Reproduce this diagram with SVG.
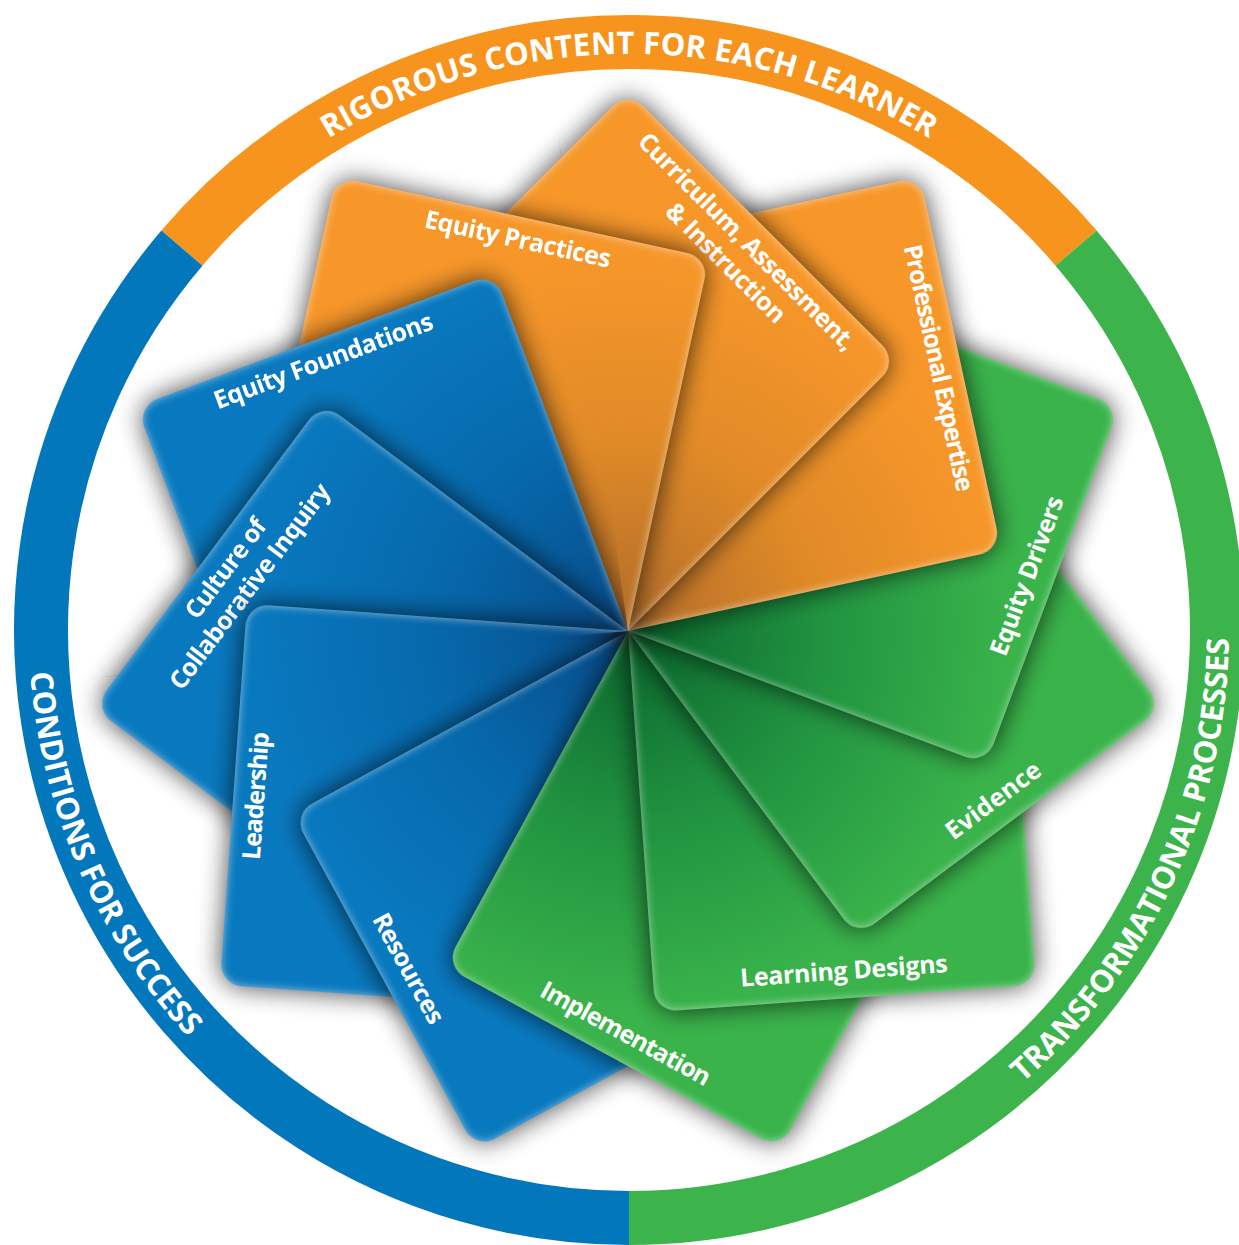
<svg xmlns="http://www.w3.org/2000/svg" width="1239" height="1245" viewBox="0 0 1239 1245">
<defs>
<style>
.lbl{fill:#fff;font-family:"Open Sans","Liberation Sans",sans-serif;font-weight:700;font-size:25px;text-anchor:middle}
.ringtxt{fill:#fff;font-family:"Open Sans","Liberation Sans",sans-serif;font-weight:700;font-size:31px;text-anchor:middle}
.band{fill:none;stroke-width:54}
</style>
<path id="cardShape" d="M0,0 H360 A22,22 0 0 1 382,22 V360 A22,22 0 0 1 360,382 H22 A22,22 0 0 1 0,360 Z"/>
<radialGradient id="gBlue" cx="0" cy="0" r="1" fx="0" fy="0">
<stop offset="0" stop-color="#084a86"/>
<stop offset="0.5" stop-color="#0668ab"/>
<stop offset="1" stop-color="#0979bf"/>
</radialGradient>
<radialGradient id="gGreen" cx="0" cy="0" r="1" fx="0" fy="0">
<stop offset="0" stop-color="#0a652c"/>
<stop offset="0.5" stop-color="#209240"/>
<stop offset="1" stop-color="#3ab34b"/>
</radialGradient>
<radialGradient id="gOrange" cx="0" cy="0" r="1" fx="0" fy="0">
<stop offset="0" stop-color="#b06c2a"/>
<stop offset="0.5" stop-color="#e08a27"/>
<stop offset="1" stop-color="#f7972a"/>
</radialGradient>
<filter id="card" x="-25%" y="-25%" width="150%" height="150%" color-interpolation-filters="sRGB">
<feGaussianBlur in="SourceAlpha" stdDeviation="13" result="b1"/>
<feComponentTransfer in="b1" result="sh"><feFuncA type="linear" slope="0.72"/></feComponentTransfer>
<feGaussianBlur in="SourceAlpha" stdDeviation="4.5" result="b2"/>
<feComposite in="SourceAlpha" in2="b2" operator="out" result="edge"/>
<feFlood flood-color="#ffffff" flood-opacity="0.55" result="wf"/>
<feComposite in="wf" in2="edge" operator="in" result="glow"/>
<feMerge><feMergeNode in="sh"/><feMergeNode in="SourceGraphic"/><feMergeNode in="glow"/></feMerge>
</filter>
<path id="sector" d="M628,631 L72.1,679.6 A558,558 0 0 1 550.3,78.4 Z"/>
<mask id="wedge" maskUnits="userSpaceOnUse" x="0" y="0" width="1239" height="1245"><use href="#sector" fill="#ffffff"/></mask>
<path id="arcTop" d="M87.7,433 A576,576 0 0 1 1170.3,433"/>
<path id="arcLeft" d="M71.1,409.1 A600,600 0 0 0 408.1,1187.9"/>
<path id="arcRight" d="M835.2,1193.5 A600,600 0 0 0 1192.5,423.8"/>
</defs>
<rect width="1239" height="1245" fill="#ffffff"/>
<g id="ring">
<path class="band" stroke="#f7941e" d="M181.9,248.1 A588,588 0 0 1 1076.1,248.1"/>
<path class="band" stroke="#3cb44b" d="M1076.1,248.1 A588,588 0 0 1 629,1218"/>
<path class="band" stroke="#0377bc" d="M629,1218 A588,588 0 0 1 181.9,248.1"/>
<text class="ringtxt"><textPath href="#arcTop" startOffset="50%" textLength="632">RIGOROUS CONTENT FOR EACH LEARNER</textPath></text>
<text class="ringtxt"><textPath href="#arcLeft" startOffset="50%" textLength="405">CONDITIONS FOR SUCCESS</textPath></text>
<text class="ringtxt"><textPath href="#arcRight" startOffset="50%" textLength="505">TRANSFORMATIONAL PROCESSES</textPath></text>
</g>
<g id="cards">
<g id="equity-foundations" transform="translate(628,631) rotate(159.545)">
<use href="#cardShape" fill="url(#gBlue)" filter="url(#card)"/>
<text class="lbl" transform="translate(191,351) rotate(180)" textLength="232">Equity Foundations</text>
</g>
<g id="culture-of-collaborative-inquiry" transform="translate(628,631) rotate(126.818)">
<use href="#cardShape" fill="url(#gBlue)" filter="url(#card)"/>
<text class="lbl" transform="translate(191,351) rotate(180)"><tspan x="0" y="0" textLength="118">Culture of</tspan><tspan x="0" y="30" textLength="250">Collaborative Inquiry</tspan></text>
</g>
<g id="leadership" transform="translate(628,631) rotate(94.091)">
<use href="#cardShape" fill="url(#gBlue)" filter="url(#card)"/>
<text class="lbl" transform="translate(191,351) rotate(180)" textLength="128">Leadership</text>
</g>
<g id="resources" transform="translate(628,631) rotate(61.364)">
<use href="#cardShape" fill="url(#gBlue)" filter="url(#card)"/>
<text class="lbl" transform="translate(191,363)" textLength="122">Resources</text>
</g>
<g id="implementation" transform="translate(628,631) rotate(28.636)">
<use href="#cardShape" fill="url(#gGreen)" filter="url(#card)"/>
<text class="lbl" transform="translate(191,363)" textLength="190">Implementation</text>
</g>
<g id="learning-designs" transform="translate(628,631) rotate(-4.091)">
<use href="#cardShape" fill="url(#gGreen)" filter="url(#card)"/>
<text class="lbl" transform="translate(191,363)" textLength="208">Learning Designs</text>
</g>
<g id="evidence" transform="translate(628,631) rotate(-36.818)">
<use href="#cardShape" fill="url(#gGreen)" filter="url(#card)"/>
<text class="lbl" transform="translate(191,363)" textLength="112">Evidence</text>
</g>
<g id="equity-drivers" transform="translate(628,631) rotate(290.455)">
<use href="#cardShape" fill="url(#gGreen)" filter="url(#card)"/>
<text class="lbl" transform="translate(191,363)" textLength="168">Equity Drivers</text>
</g>
<g id="professional-expertise" transform="translate(628,631) rotate(257.727)">
<use href="#cardShape" fill="url(#gOrange)" filter="url(#card)"/>
<text class="lbl" transform="translate(191,351) rotate(180)" textLength="252">Professional Expertise</text>
</g>
<g id="curriculum-assessment-instruction" transform="translate(628,631) rotate(225)">
<use href="#cardShape" fill="url(#gOrange)" filter="url(#card)"/>
<text class="lbl" transform="translate(191,351) rotate(180)"><tspan x="0" y="0" textLength="296">Curriculum, Assessment,</tspan><tspan x="0" y="30" textLength="158">&amp; Instruction</tspan></text>
</g>
<g id="equity-practices" transform="translate(628,631) rotate(192.273)">
<use href="#cardShape" fill="url(#gOrange)" filter="url(#card)"/>
<text class="lbl" transform="translate(191,351) rotate(180)" textLength="190">Equity Practices</text>
</g>
<g id="overlap-fix" mask="url(#wedge)">
<use href="#sector" fill="#ffffff"/>
<use href="#professional-expertise"/>
<use href="#curriculum-assessment-instruction"/>
<use href="#equity-practices"/>
<use href="#equity-foundations"/>
<use href="#culture-of-collaborative-inquiry"/>
<use href="#leadership"/>
</g>
</g>
</svg>
